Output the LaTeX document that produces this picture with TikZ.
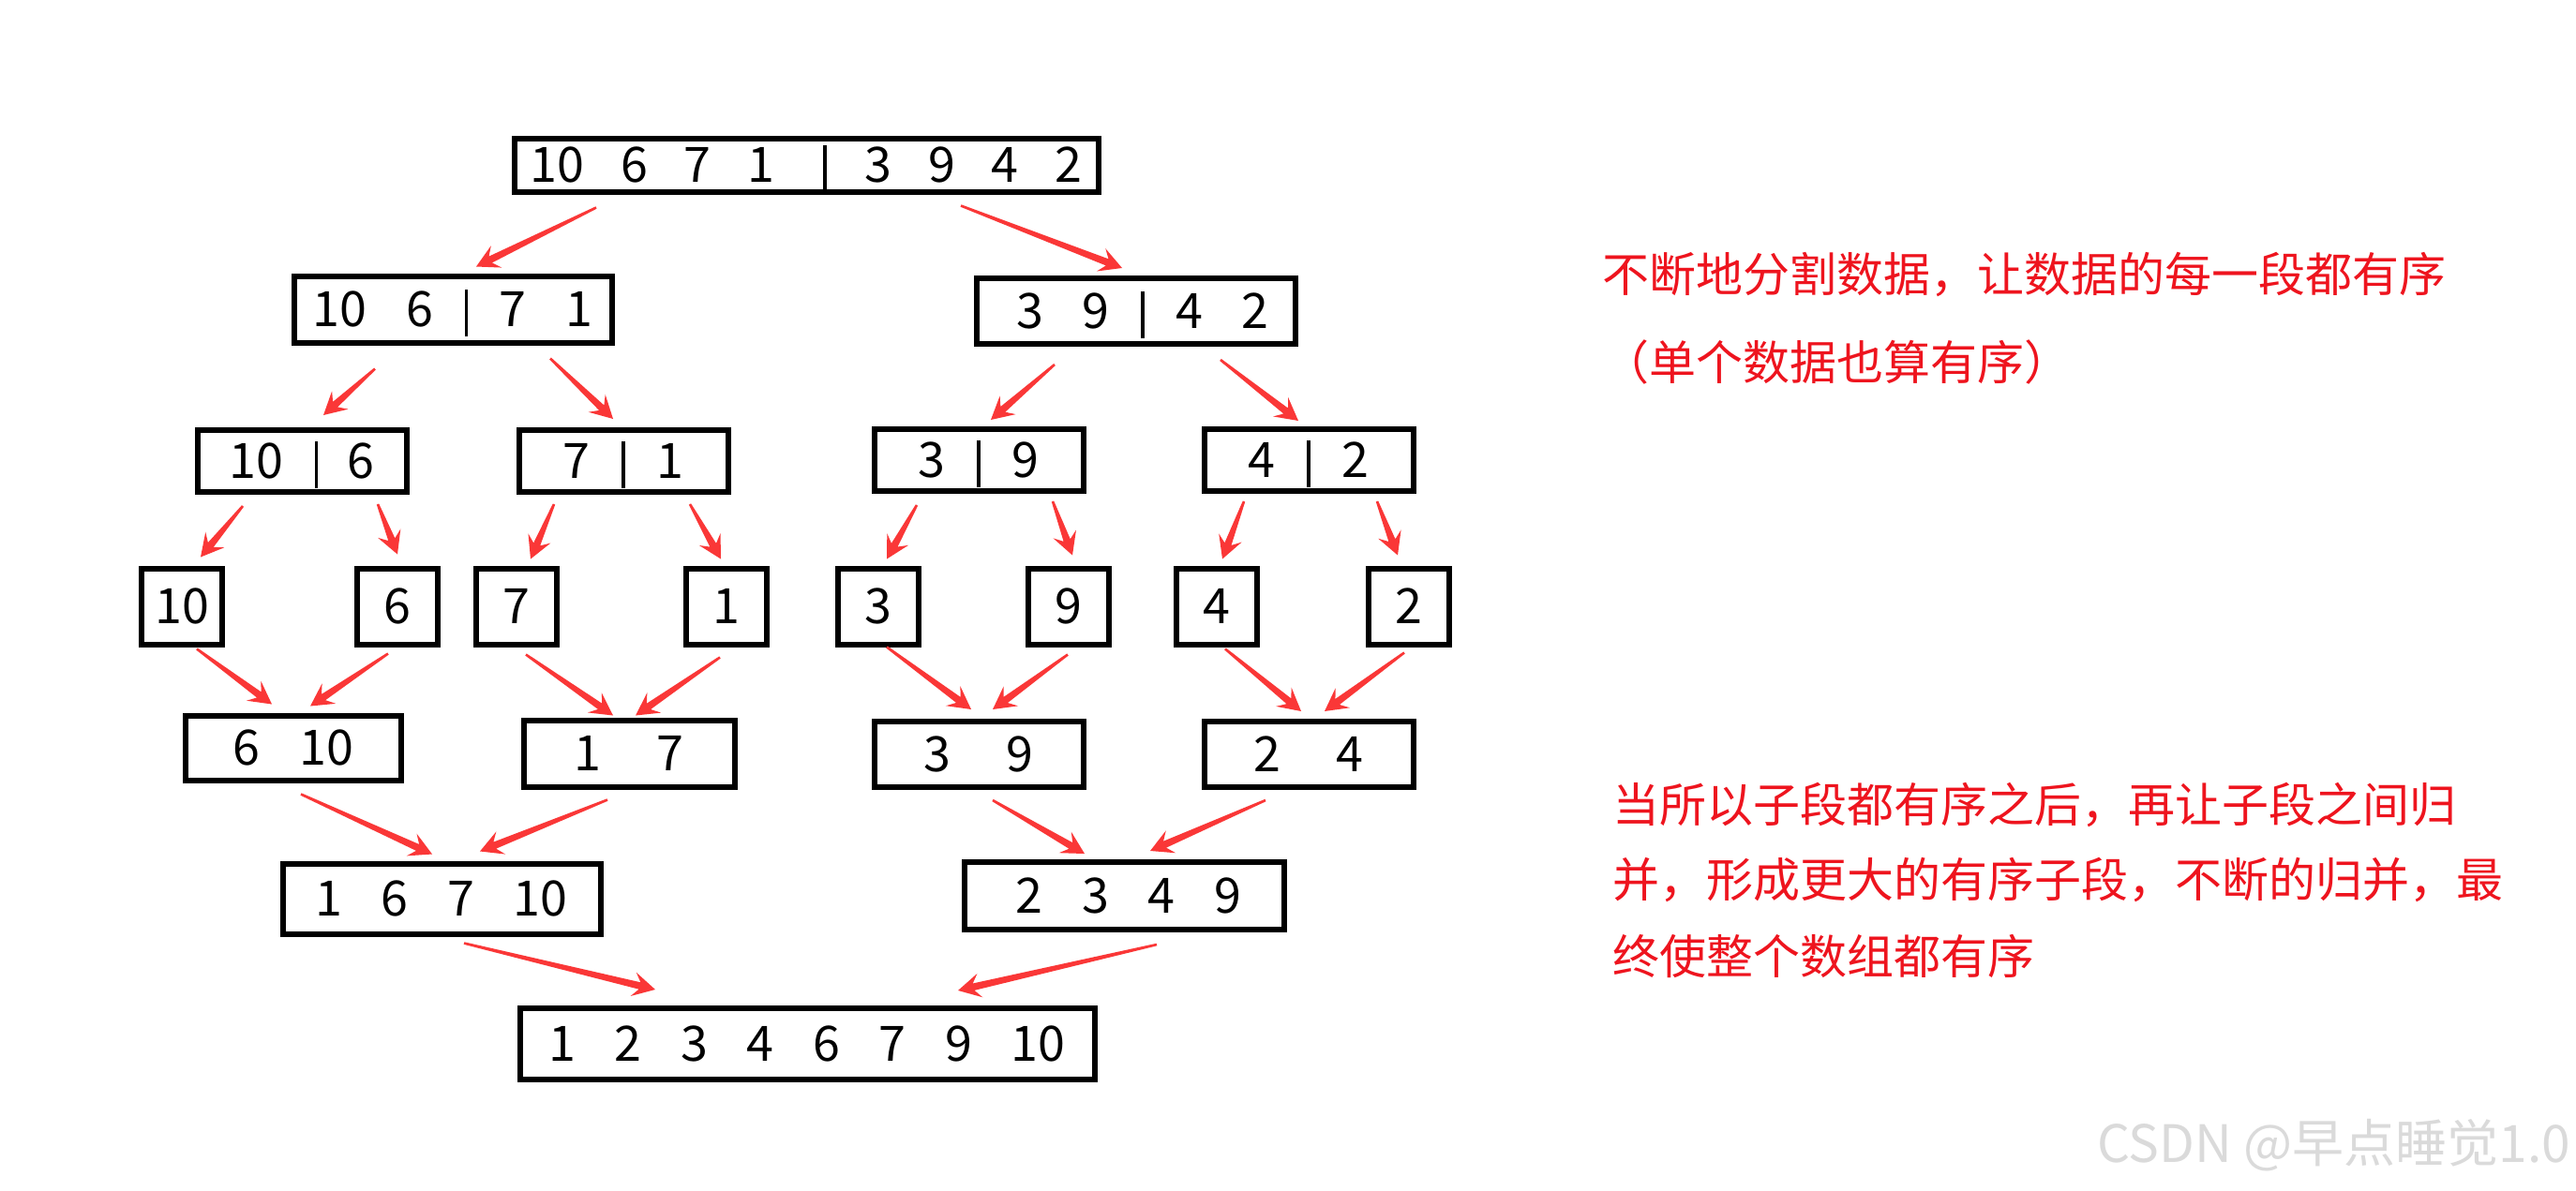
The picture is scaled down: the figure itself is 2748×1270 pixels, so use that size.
\documentclass[tikz,border=0pt]{standalone}
\usepackage{fontspec}
\setmainfont{Noto Sans CJK SC}
\usetikzlibrary{calc}
\definecolor{arrred}{RGB}{250,55,55}
\definecolor{txtred}{RGB}{238,20,30}
\definecolor{wmgray}{RGB}{218,218,218}
\newcommand\gp{\hspace{0.8em}}
\newcommand\wgp{\hspace{1.15em}}
\newcommand\vbar[2]{\hspace{#1em}\rule[-11pt]{3.5pt}{50pt}\hspace{#2em}}
\newcommand\tarr[2]{%
  \path ($(#2)!24pt!(#1)$) coordinate (tS) ($(#2)!17pt!(#1)$) coordinate (tN);
  \fill[arrred] ($(#1)!1.3pt!90:(#2)$) -- ($(tN)!3.8pt!90:(#2)$) -- ($(tS)!13pt!90:(#2)$) -- (#2)
    -- ($(tS)!13pt!-90:(#2)$) -- ($(tN)!3.8pt!-90:(#2)$) -- ($(#1)!1.3pt!-90:(#2)$) -- cycle;
}
\tikzset{
  box/.style={draw=black, line width=6pt, inner sep=0pt, fill=white,
    font=\fontsize{52}{60}\selectfont, text height=36pt, text depth=0pt},
  note/.style={text=txtred, inner sep=0pt, anchor=west, font=\fontsize{50}{60}\selectfont},
  wmark/.style={text=wmgray, inner sep=0pt, anchor=east, font=\fontsize{55}{60}\selectfont}
}
\begin{document}
\begin{tikzpicture}[x=1pt,y=-1pt]
\fill[white] (0,0) rectangle (2748,1270);
\useasboundingbox (0,0) rectangle (2748,1270);

% level 1
\node[box, minimum width=623pt, minimum height=57pt] (top) at (860,176) {10\hspace{0.75em}6\hspace{0.75em}7\hspace{0.75em}1\vbar{0.99}{0.78}3\hspace{0.75em}9\hspace{0.75em}4\hspace{0.75em}2\hspace{38pt}};
% level 2
\node[box, minimum width=339pt, minimum height=71pt] (b1) at (483,330) {10\gp 6\vbar{0.65}{0.65}7\gp 1\hspace{16pt}};
\node[box, minimum width=340pt, minimum height=70pt] (b2) at (1212,332) {\hspace{14pt}3\gp 9\vbar{0.65}{0.65}4\gp 2};
% level 3
\node[box, minimum width=223pt, minimum height=66pt] (c1) at (322,492) {10\vbar{0.65}{0.6}6};
\node[box, minimum width=223pt, minimum height=66pt] (c2) at (665,492) {7\vbar{0.65}{0.65}1};
\node[box, minimum width=223pt, minimum height=66pt] (c3) at (1044,491) {3\vbar{0.65}{0.65}9};
\node[box, minimum width=223pt, minimum height=66pt] (c4) at (1396,491) {4\vbar{0.65}{0.65}2};
% level 4
\node[box, minimum width=86pt, minimum height=81pt] (d1) at (194,647) {10};
\node[box, minimum width=86pt, minimum height=81pt] (d2) at (424,647) {6};
\node[box, minimum width=86pt, minimum height=81pt] (d3) at (551,647) {7};
\node[box, minimum width=86pt, minimum height=81pt] (d4) at (775,647) {1};
\node[box, minimum width=86pt, minimum height=81pt] (d5) at (937,647) {3};
\node[box, minimum width=86pt, minimum height=81pt] (d6) at (1140,647) {9};
\node[box, minimum width=86pt, minimum height=81pt] (d7) at (1298,647) {4};
\node[box, minimum width=86pt, minimum height=81pt] (d8) at (1503,647) {2};
% level 5
\node[box, minimum width=230pt, minimum height=69pt] (e1) at (313,798) {6\gp 10\hspace{8pt}};
\node[box, minimum width=225pt, minimum height=71pt] (e2) at (671,804) {1\wgp 7\hspace{28pt}};
\node[box, minimum width=223pt, minimum height=70pt] (e3) at (1044,805) {3\wgp 9\hspace{12pt}};
\node[box, minimum width=223pt, minimum height=70pt] (e4) at (1396,805) {2\wgp 4\hspace{48pt}};
% level 6
\node[box, minimum width=339pt, minimum height=75pt] (f1) at (471,959) {1\gp 6\gp 7\gp 10\hspace{52pt}};
\node[box, minimum width=341pt, minimum height=72pt] (f2) at (1199,956) {\hspace{10pt}2\gp 3\gp 4\gp 9};
% level 7
\node[box, minimum width=613pt, minimum height=76pt] (g) at (861,1114) {1\gp 2\gp 3\gp 4\gp 6\gp 7\gp 9\gp 10\hspace{20pt}};

% arrow end points
\coordinate (s1) at ([shift={(-224,14)}]top.south);  \coordinate (t1) at ([shift={(25,-7)}]b1.north);
\coordinate (s2) at ([shift={(165,12)}]top.south);   \coordinate (t2) at ([shift={(-15,-8)}]b2.north);
\coordinate (s3) at ([shift={(-83,25)}]b1.south);    \coordinate (t3) at ([shift={(23,-13)}]c1.north);
\coordinate (s4) at ([shift={(104,14)}]b1.south);    \coordinate (t4) at ([shift={(-11,-9)}]c2.north);
\coordinate (s5) at ([shift={(-87,19)}]b2.south);    \coordinate (t5) at ([shift={(13,-7)}]c3.north);
\coordinate (s6) at ([shift={(90,14)}]b2.south);     \coordinate (t6) at ([shift={(-11,-6)}]c4.north);
\coordinate (s7) at ([shift={(-63,12)}]c1.south);    \coordinate (t7) at ([shift={(20,-9)}]d1.north);
\coordinate (s8) at ([shift={(81,10)}]c1.south);     \coordinate (t8) at ([shift={(0,-12)}]d2.north);
\coordinate (s9) at ([shift={(-74,10)}]c2.south);    \coordinate (t9) at ([shift={(15,-7)}]d3.north);
\coordinate (s10) at ([shift={(71,10)}]c2.south);    \coordinate (t10) at ([shift={(-6,-7)}]d4.north);
\coordinate (s11) at ([shift={(-66,12)}]c3.south);   \coordinate (t11) at ([shift={(9,-7)}]d5.north);
\coordinate (s12) at ([shift={(79,8)}]c3.south);     \coordinate (t12) at ([shift={(4,-11)}]d6.north);
\coordinate (s13) at ([shift={(-69,8)}]c4.south);    \coordinate (t13) at ([shift={(6,-7)}]d7.north);
\coordinate (s14) at ([shift={(73,8)}]c4.south);     \coordinate (t14) at ([shift={(-12,-11)}]d8.north);
\coordinate (s15) at ([shift={(16,2)}]d1.south);     \coordinate (t15) at ([shift={(-23,-9)}]e1.north);
\coordinate (s16) at ([shift={(-10,7)}]d2.south);    \coordinate (t16) at ([shift={(18,-7)}]e1.north);
\coordinate (s17) at ([shift={(10,8)}]d3.south);     \coordinate (t17) at ([shift={(-17,-2)}]e2.north);
\coordinate (s18) at ([shift={(-7,11)}]d4.south);    \coordinate (t18) at ([shift={(7,-2)}]e2.north);
\coordinate (s19) at ([shift={(9,0)}]d5.south);      \coordinate (t19) at ([shift={(-8,-10)}]e3.north);
\coordinate (s20) at ([shift={(-1,8)}]d6.south);     \coordinate (t20) at ([shift={(15,-10)}]e3.north);
\coordinate (s21) at ([shift={(9,2)}]d7.south);      \coordinate (t21) at ([shift={(-8,-8)}]e4.north);
\coordinate (s22) at ([shift={(-5,6)}]d8.south);     \coordinate (t22) at ([shift={(17,-8)}]e4.north);
\coordinate (s23) at ([shift={(8,12)}]e1.south);     \coordinate (t23) at ([shift={(-10,-7)}]f1.north);
\coordinate (s24) at ([shift={(-23,11)}]e2.south);   \coordinate (t24) at ([shift={(41,-10)}]f1.north);
\coordinate (s25) at ([shift={(15,11)}]e3.south);    \coordinate (t25) at ([shift={(-42,-6)}]f2.north);
\coordinate (s26) at ([shift={(-46,11)}]e4.south);   \coordinate (t26) at ([shift={(28,-9)}]f2.north);
\coordinate (s27) at ([shift={(24,7)}]f1.south);     \coordinate (t27) at ([shift={(-162,-17)}]g.north);
\coordinate (s28) at ([shift={(35,13)}]f2.south);    \coordinate (t28) at ([shift={(161,-16)}]g.north);

\foreach \i in {1,...,28} {\tarr{s\i}{t\i}}

% notes
\node[note] (n1) at (1709,293) {不断地分割数据，让数据的每一段都有序};
\node[note] (n2) at (1709,386) {（单个数据也算有序）};
\node[note] (n3) at (1720,859) {当所以子段都有序之后，再让子段之间归};
\node[note] (n4) at (1720,939) {并，形成更大的有序子段，不断的归并，最};
\node[note] (n5) at (1720,1020) {终使整个数组都有序};

% watermark
\node[wmark] (wm) at (2742,1222) {CSDN @早点睡觉1.0};
\end{tikzpicture}
\end{document}
